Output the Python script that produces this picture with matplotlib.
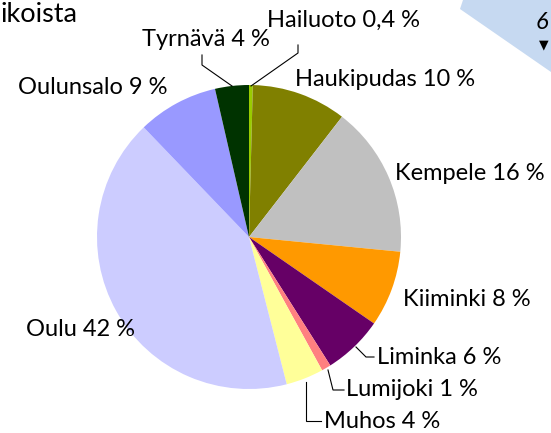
import matplotlib
matplotlib.use("Agg")
import matplotlib.pyplot as plt
from matplotlib.patches import Polygon

# share of each municipality (%), clockwise from 12 o'clock
names = ["Hailuoto", "Haukipudas", "Kempele", "Kiiminki", "Liminka",
         "Lumijoki", "Muhos", "Oulu", "Oulunsalo", "Tyrnävä"]
shares = [0.4, 10.1, 16.1, 8.1, 6.4, 1.0, 4.0, 41.9, 8.6, 3.6]
colors = ["#99CC00", "#808000", "#C0C0C0", "#FF9900", "#660066",
          "#FF8080", "#FFFF99", "#CCCCFF", "#9999FF", "#003300"]


def fmt(v):
    if v < 1:
        return f"{v:.1f}".replace(".", ",")
    return f"{v:.0f}"


labels = [f"{n} {fmt(v)} %" for n, v in zip(names, shares)]

W, H = 551, 433
fig = plt.figure(figsize=(W / 100, H / 100), dpi=100)
ax = fig.add_axes([0, 0, 1, 1])

FONT = "Lato"
FS = 17


def py(y):
    return H - y


ax.pie(shares, colors=colors, startangle=90, counterclock=False,
       center=(249, py(237)), radius=152, frame=True,
       wedgeprops=dict(linewidth=0))
ax.set_xlim(0, W)
ax.set_ylim(0, H)
ax.axis("off")

# label placement (pixel coords from top-left): (x, y, ha)
pos = {
    "Hailuoto": (267, 20, "left"),
    "Haukipudas": (295, 80, "left"),
    "Kempele": (395, 174, "left"),
    "Kiiminki": (403, 300, "left"),
    "Liminka": (377, 357, "left"),
    "Lumijoki": (346, 390, "left"),
    "Muhos": (324, 421, "left"),
    "Oulu": (135, 330, "right"),
    "Oulunsalo": (167, 88, "right"),
    "Tyrnävä": (270, 40, "right"),
}
for n, lab in zip(names, labels):
    x, y, ha = pos[n]
    ax.text(x, py(y), lab, ha=ha, va="center", fontsize=FS, family=FONT,
            color="black")

# leader lines
leaders = [
    [(202, 55), (202, 65), (232, 86)],
    [(298, 45), (298, 53), (251, 86)],
    [(356, 347), (366, 357), (374, 357)],
    [(328, 370), (333, 390), (344, 390)],
    [(306, 382), (306, 421), (321, 421)],
]
for pts in leaders:
    xs = [p[0] for p in pts]
    ys = [py(p[1]) for p in pts]
    ax.plot(xs, ys, color="black", linewidth=0.8, solid_joinstyle="miter")

# clipped title fragment and callout shape at the top
ax.text(0, py(22), "ikoista", ha="left", va="baseline", fontsize=19.5,
        family=FONT, color="black")
ax.add_patch(Polygon([(463, py(0)), (460, py(9)), (551, py(72)), (551, py(0))],
                     closed=True, facecolor="#C6D9F1", edgecolor="none"))
ax.text(536, py(29), "6", ha="left", va="baseline", fontsize=17,
        family=FONT, style="italic", color="black")
ax.text(539, py(45), "▼", ha="left", va="center", fontsize=9,
        family="DejaVu Sans", color="black")

fig.savefig("out.png", dpi=100)
